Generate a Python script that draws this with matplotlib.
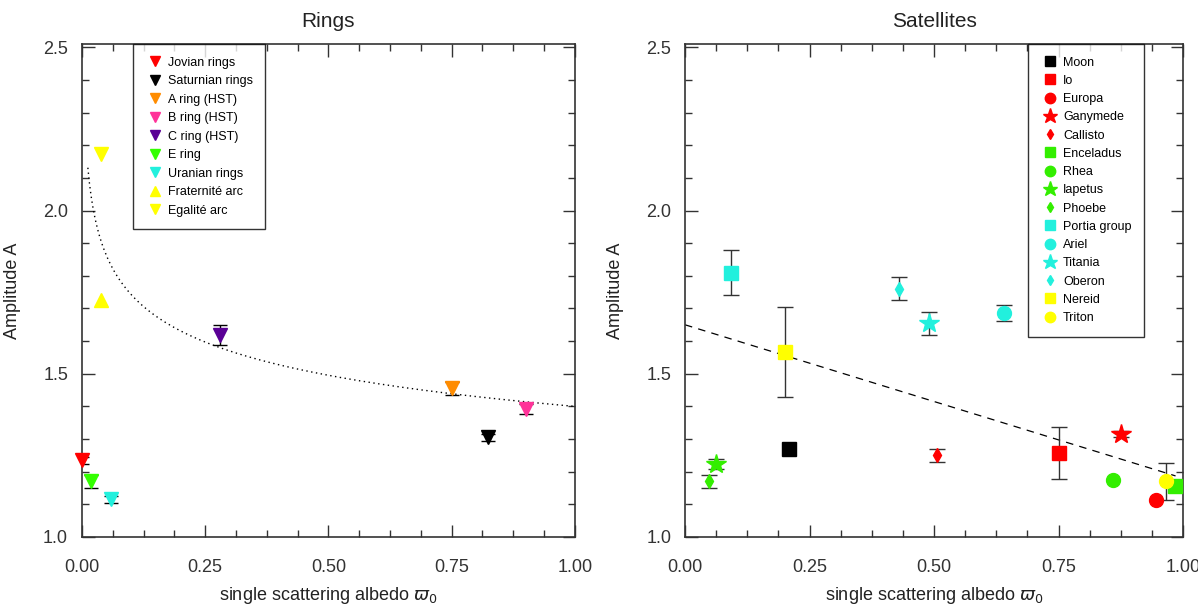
import matplotlib.pyplot as plt
import numpy as np
from matplotlib.ticker import MultipleLocator

plt.rcParams['font.family'] = ['Liberation Sans', 'DejaVu Sans']

# --- Rings panel ---
ring_names = ["Jovian rings", "Saturnian rings", "A ring (HST)", "B ring (HST)", "C ring (HST)",
              "E ring", "Uranian rings", "Fraternité arc", "Egalité arc"]
ring_albedo = [0.0, 0.823, 0.75, 0.90, 0.28, 0.018, 0.059, 0.039, 0.039]
ring_amp = [1.235, 1.305, 1.455, 1.393, 1.618, 1.17, 1.115, 1.725, 2.172]
ring_err = [0.01, 0.01, 0.02, 0.015, 0.03, 0.02, 0.01, 0.0, 0.0]
ring_colors = ["#ff0000", "#000000", "#ff8c00", "#ff3399", "#5a0096",
               "#33ff00", "#22f0dd", "#ffff00", "#ffff00"]
ring_markers = ["v", "v", "v", "v", "v", "v", "v", "^", "v"]

# power-law fit shown as dotted line: A = a * w^(-p)
ring_fit_a = 1.40
ring_fit_p = 0.095

# --- Satellites panel ---
sat_names = ["Moon", "Io", "Europa", "Ganymede", "Callisto", "Enceladus", "Rhea", "Iapetus",
             "Phoebe", "Portia group", "Ariel", "Titania", "Oberon", "Nereid", "Triton"]
sat_albedo = [0.209, 0.75, 0.946, 0.875, 0.506, 0.984, 0.86, 0.062, 0.048,
              0.092, 0.64, 0.49, 0.43, 0.20, 0.966]
sat_amp = [1.27, 1.258, 1.113, 1.315, 1.25, 1.155, 1.176, 1.224, 1.17,
           1.81, 1.687, 1.655, 1.76, 1.567, 1.17]
sat_err = [0.0, 0.08, 0.0, 0.01, 0.02, 0.0, 0.0, 0.015, 0.02,
           0.068, 0.025, 0.035, 0.035, 0.138, 0.058]
sat_colors = ["#000000", "#ff0000", "#ff0000", "#ff0000", "#ff0000",
              "#33ee00", "#33ee00", "#33ee00", "#33ee00",
              "#22f0dd", "#22f0dd", "#22f0dd", "#22f0dd", "#ffff00", "#ffff00"]
sat_markers = ["s", "s", "o", "*", "d", "s", "o", "*", "d", "s", "o", "*", "d", "s", "o"]
sat_sizes = [10, 10, 10, 15, 7, 10, 10, 15, 7, 10, 10, 15, 7, 10, 10]

# linear fit shown as dashed line
sat_fit_a = 1.65
sat_fit_b = -0.47

fig = plt.figure(figsize=(11.98, 6.08), dpi=100)
ax1 = fig.add_axes([0.0684, 0.1168, 0.4115, 0.8108])
ax2 = fig.add_axes([0.5718, 0.1168, 0.4157, 0.8108])


def style(ax, title):
    ax.set_xlim(0, 1.0)
    ax.set_ylim(1.0, 2.51)
    ax.xaxis.set_major_locator(MultipleLocator(0.25))
    ax.xaxis.set_minor_locator(MultipleLocator(0.0625))
    ax.yaxis.set_major_locator(MultipleLocator(0.5))
    ax.yaxis.set_minor_locator(MultipleLocator(0.1))
    ax.xaxis.set_major_formatter(plt.FormatStrFormatter("%.2f"))
    ax.yaxis.set_major_formatter(plt.FormatStrFormatter("%.1f"))
    ax.tick_params(which="both", direction="in", top=True, right=True,
                   color="#333333", labelcolor="#333333", labelsize=13)
    ax.tick_params(which="major", length=9, width=1)
    ax.tick_params(which="minor", length=5, width=1)
    ax.tick_params(axis="x", which="major", pad=16)
    ax.tick_params(axis="y", which="major", pad=10)
    for s in ax.spines.values():
        s.set_color("#333333")
        s.set_linewidth(1.2)
    ax.set_title(title, fontsize=15, pad=12, color="#222222")
    ax.set_xlabel(r"single scattering albedo $\varpi_0$", fontsize=13, color="#222222", labelpad=6)
    ax.set_ylabel("Amplitude A", fontsize=13, color="#222222", labelpad=16)


# Rings
style(ax1, "Rings")
w = np.linspace(0.012, 1.0, 300)
ax1.plot(w, ring_fit_a * w ** (-ring_fit_p), ls=(0, (1, 2.5)), color="black", lw=1)
for n, x, y, e, c, m in zip(ring_names, ring_albedo, ring_amp, ring_err, ring_colors, ring_markers):
    if e > 0:
        ax1.errorbar(x, y, yerr=e, fmt="none", ecolor="black", elinewidth=1, capsize=5, zorder=2)
    ax1.plot(x, y, ls="none", marker=m, color=c, ms=10, zorder=3, label=n, clip_on=False)
leg1 = ax1.legend(loc="upper left", bbox_to_anchor=(0.103, 1.0), fontsize=9, frameon=True,
                  fancybox=False, edgecolor="black", borderpad=1.0, labelspacing=0.52,
                  handletextpad=0.3, markerscale=0.7, handlelength=1.5, borderaxespad=0)
leg1.get_frame().set_linewidth(1)

# Satellites
style(ax2, "Satellites")
wl = np.linspace(0.0, 0.985, 50)
ax2.plot(wl, sat_fit_a + sat_fit_b * wl, ls=(0, (6, 5)), color="black", lw=0.9)
for n, x, y, e, c, m, s in zip(sat_names, sat_albedo, sat_amp, sat_err, sat_colors, sat_markers, sat_sizes):
    if e > 0:
        ax2.errorbar(x, y, yerr=e, fmt="none", ecolor="#333333", elinewidth=1, capsize=6, zorder=2)
    ax2.plot(x, y, ls="none", marker=m, color=c, ms=s, zorder=3, label=n, clip_on=False)
leg2 = ax2.legend(loc="upper left", bbox_to_anchor=(0.689, 1.0), fontsize=9, frameon=True,
                  fancybox=False, edgecolor="black", borderpad=1.0, labelspacing=0.5,
                  handletextpad=0.3, markerscale=0.75, handlelength=1.5, borderaxespad=0)
leg2.get_frame().set_linewidth(1)

fig.savefig("out.png", dpi=100)
